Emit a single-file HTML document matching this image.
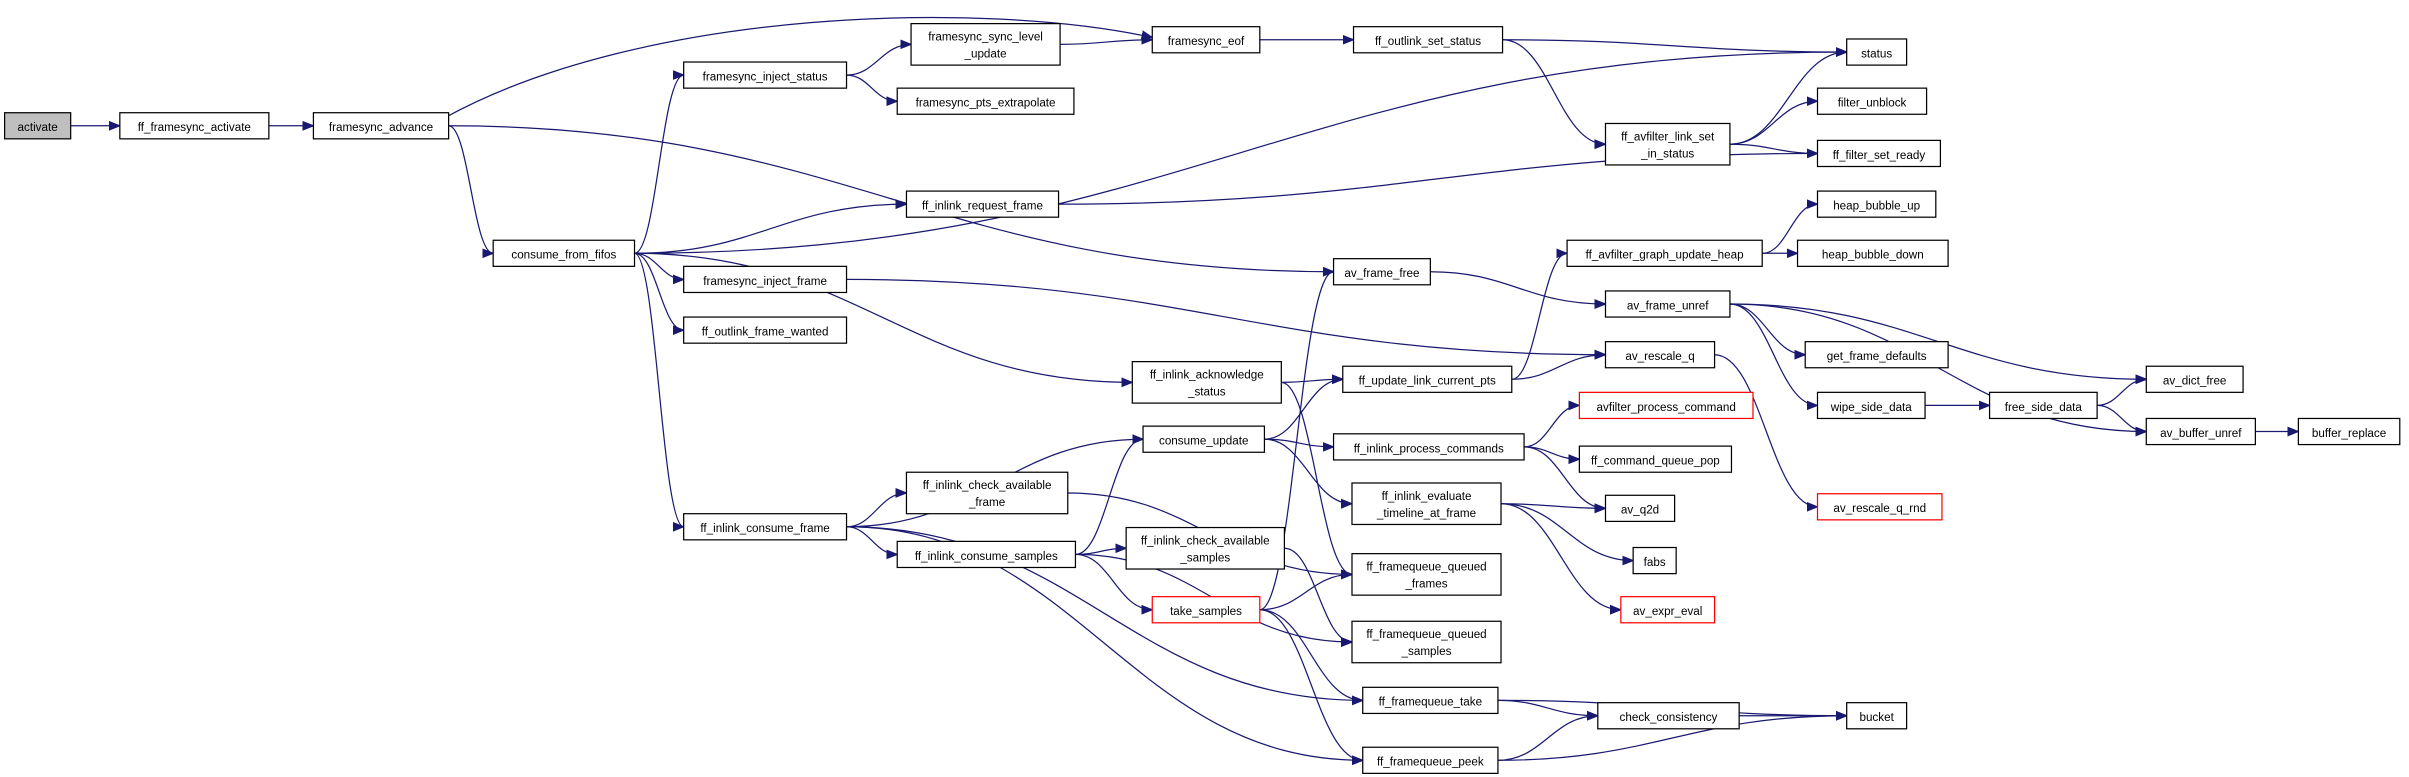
<!DOCTYPE html>
<html><head><meta charset="utf-8"><style>
html,body{margin:0;padding:0;background:#fff;}
svg{display:block}
text{font-family:"Liberation Sans",sans-serif;font-size:7.6px;fill:#000;text-anchor:middle}
rect{fill:#fff;stroke:#000;stroke-width:0.8}
rect.r{stroke:#f00}
rect.g{fill:#bfbfbf}
path.e{fill:none;stroke:#191970;stroke-width:0.8}
</style></head><body>
<svg id="s" width="2409" height="777" viewBox="0 0 1568 505" xmlns="http://www.w3.org/2000/svg">
<defs><marker id="a" viewBox="0 0 10 10" refX="10" refY="5" markerWidth="7" markerHeight="7" orient="auto" markerUnits="userSpaceOnUse"><path d="M0,1 L10,5 L0,9 z" fill="#191970" stroke="#191970"/></marker></defs>
<g id="edges"></g>
<g id="nodes">
<rect class="g" x="3" y="73" width="43" height="17"/><text x="24.5" y="85">activate</text>
<rect x="78" y="73" width="97" height="17"/><text x="126.5" y="85">ff_framesync_activate</text>
<rect x="204" y="73" width="88" height="17"/><text x="248" y="85">framesync_advance</text>
<rect x="445" y="40" width="106" height="17"/><text x="498" y="52">framesync_inject_status</text>
<rect x="593" y="15" width="97" height="27"/><text x="641.5" y="26">framesync_sync_level</text><text x="641.5" y="37">_update</text>
<rect x="750" y="17" width="70" height="17"/><text x="785" y="29">framesync_eof</text>
<rect x="881" y="17" width="97" height="17"/><text x="929.5" y="29">ff_outlink_set_status</text>
<rect x="1202" y="25" width="39" height="17"/><text x="1221.5" y="37">status</text>
<rect x="584" y="57" width="115" height="17"/><text x="641.5" y="69">framesync_pts_extrapolate</text>
<rect x="1183" y="57" width="71" height="17"/><text x="1218.5" y="69">filter_unblock</text>
<rect x="1045" y="80" width="81" height="27"/><text x="1085.5" y="91">ff_avfilter_link_set</text><text x="1085.5" y="102">_in_status</text>
<rect x="1183" y="91" width="80" height="17"/><text x="1223" y="103">ff_filter_set_ready</text>
<rect x="321" y="156" width="92" height="17"/><text x="367" y="168">consume_from_fifos</text>
<rect x="590" y="124" width="99" height="17"/><text x="639.5" y="136">ff_inlink_request_frame</text>
<rect x="1183" y="124" width="77" height="17"/><text x="1221.5" y="136">heap_bubble_up</text>
<rect x="1020" y="156" width="127" height="17"/><text x="1083.5" y="168">ff_avfilter_graph_update_heap</text>
<rect x="1170" y="156" width="98" height="17"/><text x="1219" y="168">heap_bubble_down</text>
<rect x="868" y="168" width="63" height="17"/><text x="899.5" y="180">av_frame_free</text>
<rect x="445" y="173" width="106" height="17"/><text x="498" y="185">framesync_inject_frame</text>
<rect x="1045" y="189" width="81" height="17"/><text x="1085.5" y="201">av_frame_unref</text>
<rect x="445" y="206" width="106" height="17"/><text x="498" y="218">ff_outlink_frame_wanted</text>
<rect x="1175" y="222" width="93" height="17"/><text x="1221.5" y="234">get_frame_defaults</text>
<rect x="1397" y="238" width="63" height="17"/><text x="1428.5" y="250">av_dict_free</text>
<rect x="737" y="235" width="97" height="27"/><text x="785.5" y="246">ff_inlink_acknowledge</text><text x="785.5" y="257">_status</text>
<rect x="874" y="238" width="110" height="17"/><text x="929" y="250">ff_update_link_current_pts</text>
<rect x="1045" y="222" width="71" height="17"/><text x="1080.5" y="234">av_rescale_q</text>
<rect x="1183" y="255" width="70" height="17"/><text x="1218" y="267">wipe_side_data</text>
<rect x="1295" y="255" width="70" height="17"/><text x="1330" y="267">free_side_data</text>
<rect class="r" x="1028" y="255" width="113" height="17"/><text x="1084.5" y="267">avfilter_process_command</text>
<rect x="744" y="277" width="79" height="17"/><text x="783.5" y="289">consume_update</text>
<rect x="868" y="282" width="124" height="17"/><text x="930" y="294">ff_inlink_process_commands</text>
<rect x="1397" y="272" width="71" height="17"/><text x="1432.5" y="284">av_buffer_unref</text>
<rect x="1496" y="272" width="66" height="17"/><text x="1529" y="284">buffer_replace</text>
<rect x="1028" y="290" width="99" height="17"/><text x="1077.5" y="302">ff_command_queue_pop</text>
<rect class="r" x="1183" y="321" width="81" height="17"/><text x="1223.5" y="333">av_rescale_q_rnd</text>
<rect x="590" y="307" width="105" height="27"/><text x="642.5" y="318">ff_inlink_check_available</text><text x="642.5" y="329">_frame</text>
<rect x="880" y="314" width="97" height="27"/><text x="928.5" y="325">ff_inlink_evaluate</text><text x="928.5" y="336">_timeline_at_frame</text>
<rect x="1045" y="322" width="45" height="17"/><text x="1067.5" y="334">av_q2d</text>
<rect x="445" y="334" width="106" height="17"/><text x="498" y="346">ff_inlink_consume_frame</text>
<rect x="584" y="352" width="116" height="17"/><text x="642" y="364">ff_inlink_consume_samples</text>
<rect x="733" y="343" width="103" height="27"/><text x="784.5" y="354">ff_inlink_check_available</text><text x="784.5" y="365">_samples</text>
<rect x="880" y="360" width="97" height="27"/><text x="928.5" y="371">ff_framequeue_queued</text><text x="928.5" y="382">_frames</text>
<rect x="1063" y="356" width="28" height="17"/><text x="1077" y="368">fabs</text>
<rect class="r" x="750" y="388" width="70" height="17"/><text x="785" y="400">take_samples</text>
<rect class="r" x="1055" y="388" width="61" height="17"/><text x="1085.5" y="400">av_expr_eval</text>
<rect x="880" y="404" width="97" height="27"/><text x="928.5" y="415">ff_framequeue_queued</text><text x="928.5" y="426">_samples</text>
<rect x="887" y="447" width="88" height="17"/><text x="931" y="459">ff_framequeue_take</text>
<rect x="1040" y="457" width="92" height="17"/><text x="1086" y="469">check_consistency</text>
<rect x="1202" y="457" width="39" height="17"/><text x="1221.5" y="469">bucket</text>
<rect x="887" y="486" width="88" height="17"/><text x="931" y="498">ff_framequeue_peek</text>
</g>
</svg>
<script>
var N={act:[3,73,43,17],fsa:[78,73,97,17],adv:[204,73,88,17],fis:[445,40,106,17],slu:[593,15,97,27],eof:[750,17,70,17],oss:[881,17,97,17],st:[1202,25,39,17],pte:[584,57,115,17],fu:[1183,57,71,17],lss:[1045,80,81,27],fsr:[1183,91,80,17],cff:[321,156,92,17],irf:[590,124,99,17],hbu:[1183,124,77,17],guh:[1020,156,127,17],hbd:[1170,156,98,17],aff:[868,168,63,17],fif:[445,173,106,17],afu:[1045,189,81,17],ofw:[445,206,106,17],gfd:[1175,222,93,17],adf:[1397,238,63,17],ias:[737,235,97,27],ulc:[874,238,110,17],arq:[1045,222,71,17],wsd:[1183,255,70,17],fsd:[1295,255,70,17],apc:[1028,255,113,17],cu:[744,277,79,17],ipc:[868,282,124,17],abu:[1397,272,71,17],br:[1496,272,66,17],cqp:[1028,290,99,17],rnd:[1183,321,81,17],caf:[590,307,105,27],etf:[880,314,97,27],q2d:[1045,322,45,17],icf:[445,334,106,17],ics:[584,352,116,17],cas:[733,343,103,27],qf:[880,360,97,27],fabs:[1063,356,28,17],ts:[750,388,70,17],ee:[1055,388,61,17],qs:[880,404,97,27],ft:[887,447,88,17],cc:[1040,457,92,17],bk:[1202,457,39,17],fp:[887,486,88,17]};
var E="act fsa,fsa adv,adv cff,adv aff,fis slu,fis pte,slu eof,eof oss,oss st,oss lss,lss st,lss fu,lss fsr,cff st,cff fis,cff irf,cff fif,cff ofw,cff ias,cff icf,irf fsr,fif arq,aff afu,afu gfd,afu adf,afu wsd,afu abu,guh hbu,guh hbd,ulc guh,ulc arq,ias ulc,ias qf,arq rnd,wsd fsd,fsd adf,fsd abu,abu br,cu ulc,cu ipc,cu etf,ipc apc,ipc cqp,ipc q2d,etf q2d,etf fabs,etf ee,icf cu,icf caf,icf ics,icf ft,icf fp,caf qf,ics cu,ics cas,ics ts,ics qs,cas qs,ts aff,ts qf,ts ft,ts fp,ft cc,ft bk,fp cc,fp bk,cc bk".split(",");
var g=document.getElementById("edges"),d='<path class="e" marker-end="url(#a)" d="M290,76 C420,5 640,0 750,24"/>';
E.forEach(function(p){var a=N[p.split(" ")[0]],b=N[p.split(" ")[1]];var x1,y1,x2,y2,s;
if(b[0]>a[0]+a[2]-5){x1=a[0]+a[2];y1=a[1]+a[3]/2;x2=b[0];y2=b[1]+b[3]/2;var m=(x2-x1)*0.45;s="M"+x1+","+y1+" C"+(x1+m)+","+y1+" "+(x2-m)+","+y2+" "+x2+","+y2;}
else{x1=a[0]+a[2]/2;y1=a[1];x2=b[0]+b[2]/3;y2=b[1]+b[3];s="M"+x1+","+y1+" C"+x1+","+(y1-40)+" "+x2+","+(y2+30)+" "+x2+","+y2;}
d+='<path class="e" marker-end="url(#a)" d="'+s+'"/>';});
g.innerHTML=d;
</script>
</body></html>
